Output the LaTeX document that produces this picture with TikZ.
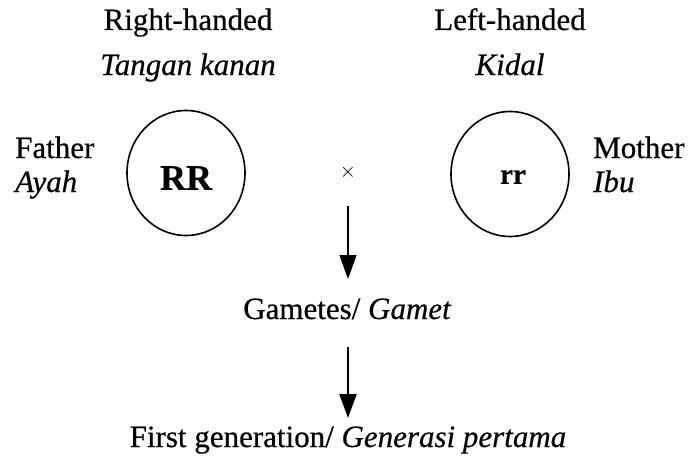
\documentclass[tikz,border=0pt]{standalone}
\usepackage{fontspec}
\setmainfont{Liberation Serif}[FakeBold=0.5]
\usetikzlibrary{shapes.geometric,arrows.meta}
\begin{document}
\begin{tikzpicture}[x=1pt,y=-1pt,
  lbl/.style={font=\fontsize{31}{33}\selectfont, inner sep=0pt},
  parent/.style={draw, ellipse, line width=1.6pt, minimum width=118pt, minimum height=125pt, inner sep=0pt},
  genarrow/.style={-{Triangle[length=24pt,width=17pt]}, line width=1.4pt}
]
\useasboundingbox (0,0) rectangle (689,463);

% parents with their genotypes
\node[parent] (fa) at (186,173) {};
\node[parent] (mo) at (510,174) {};
\node[font=\fontsize{36}{38}\selectfont\bfseries, inner sep=0pt] (rrf) at (186,178) {RR};
\node[font=\fontsize{29}{31}\selectfont\bfseries, inner sep=0pt] (rrm) at (513,177) {rr};

% phenotype headings
\node[lbl, anchor=base] (rh) at (188,30) {Right-handed};
\node[lbl, anchor=base] (tk) at (188,75) {\itshape Tangan kanan};
\node[lbl, anchor=base] (lh) at (510,30) {Left-handed};
\node[lbl, anchor=base] (ki) at (510,75) {\itshape Kidal};

% side labels
\node[lbl, anchor=base west] (fl) at (15,158) {Father};
\node[lbl, anchor=base west] (al) at (15,192) {\itshape Ayah};
\node[lbl, anchor=base west] (ml) at (593,158) {Mother};
\node[lbl, anchor=base west] (il) at (593,192) {\itshape Ibu};

% cross, gametes and offspring
\node[font=\fontsize{20}{22}\selectfont, inner sep=0pt] (x) at (348,172) {$\times$};
\coordinate (a1) at (348,206);
\coordinate (t1) at (348,279);
\node[lbl, anchor=base] (gam) at (347,319) {Gametes/ \itshape Gamet};
\coordinate (a2) at (348,347);
\coordinate (t2) at (348,418);
\node[lbl, anchor=base] (f1) at (348,447) {First generation/ \itshape Generasi pertama};

\draw[genarrow] (a1) -- (t1);
\draw[genarrow, line width=2.4pt] (a2) -- (t2);
\end{tikzpicture}
\end{document}
